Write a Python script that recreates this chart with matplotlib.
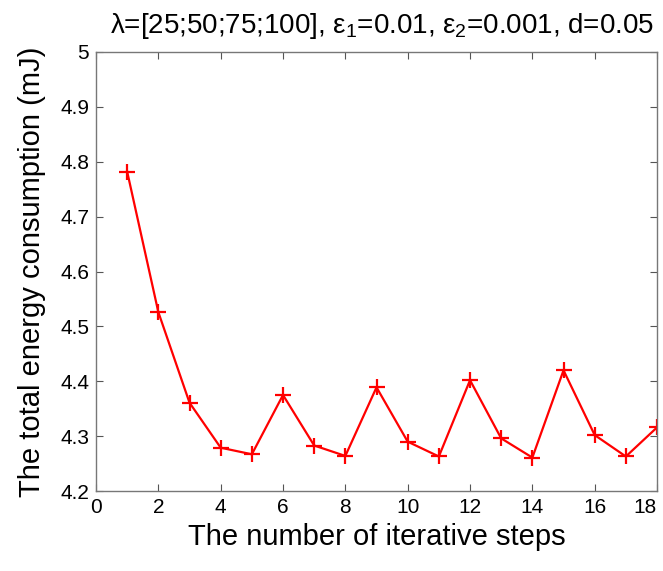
import matplotlib
matplotlib.use("Agg")
import matplotlib.pyplot as plt

# energy per iteration step
steps = list(range(1, 19))
energy = [4.782, 4.526, 4.361, 4.279, 4.267, 4.375, 4.283, 4.264, 4.389,
          4.290, 4.263, 4.402, 4.296, 4.261, 4.420, 4.302, 4.263, 4.316]

plt.rcParams['font.family'] = ['Liberation Sans', 'DejaVu Sans']
plt.rcParams['mathtext.fontset'] = 'custom'
plt.rcParams['mathtext.rm'] = 'Liberation Sans'
plt.rcParams['mathtext.it'] = 'Liberation Sans'

fig = plt.figure(figsize=(6.63, 5.71), dpi=100)
ax = fig.add_axes([0.1448, 0.140, 0.8462, 0.769])

ax.plot(steps, energy, 'r-+', linewidth=1.6, markersize=11, markeredgewidth=1.6)

ax.set_xlim(0, 18)
ax.set_ylim(4.2, 5.0)
ax.set_xticks(range(0, 19, 2))
ax.set_yticks([4.2, 4.3, 4.4, 4.5, 4.6, 4.7, 4.8, 4.9, 5.0])
ax.set_yticklabels(['4.2', '4.3', '4.4', '4.5', '4.6', '4.7', '4.8', '4.9', '5'])
ax.tick_params(direction='in', top=True, right=True, length=5, width=0.8,
               color='#555555', labelsize=15, pad=5)
# keep the last x label inside the figure
ax.get_xticklabels()[-1].set_horizontalalignment('right')
for s in ax.spines.values():
    s.set_color('#777777')
    s.set_linewidth(1.0)

ax.set_xlabel('The number of iterative steps', fontsize=21, labelpad=4)
ax.set_ylabel('The total energy consumption (mJ)', fontsize=21, labelpad=10)
ax.set_title(r'$\lambda$=[25;50;75;100], $\varepsilon_1$=0.01, $\varepsilon_2$=0.001, d=0.05',
             fontsize=20, pad=14, x=0.51)

fig.savefig('out.png', dpi=100)
